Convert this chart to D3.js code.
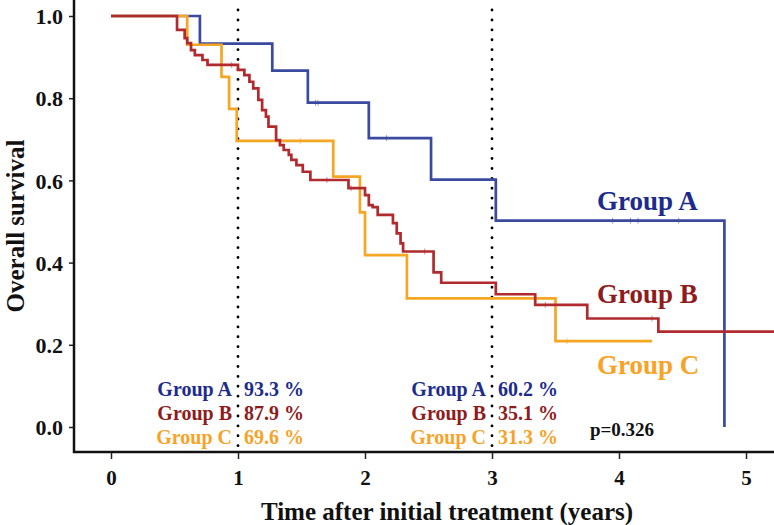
<!DOCTYPE html>
<html>
<head>
<meta charset="utf-8">
<script src="https://cdn.jsdelivr.net/npm/d3@7"></script>
<style>
html,body{margin:0;padding:0;background:#fff;}
svg{display:block;}
text{font-family:"Liberation Serif","Times New Roman",serif;font-weight:bold;}
</style>
</head>
<body>
<svg id="chart" width="774" height="525"></svg>
<script>
// ---- data ----
const groupNames = ["Group A", "Group B", "Group C"];
const timesA = [0, 0.70, 1.27, 1.55, 2.03, 2.52, 3.03, 4.83];
const survA  = [1.0, 0.933, 0.867, 0.789, 0.703, 0.602, 0.502, 0.0];
const endA = 4.83;
const censorA = [1.61, 1.63, 2.17, 3.95, 4.09, 4.15, 4.47];

const timesB = [0, 0.52, 0.58, 0.60, 0.63, 0.66, 0.72, 0.76, 1.00, 1.05, 1.09, 1.12, 1.16, 1.19, 1.22, 1.24, 1.30, 1.33, 1.36, 1.40, 1.42, 1.46, 1.51, 1.57, 1.87, 2.00, 2.03, 2.06, 2.10, 2.22, 2.25, 2.28, 2.30, 2.54, 2.60, 3.03, 3.34, 3.75, 4.31];
const survB  = [1.0, 0.966, 0.946, 0.934, 0.917, 0.905, 0.893, 0.881, 0.869, 0.856, 0.840, 0.824, 0.796, 0.771, 0.755, 0.731, 0.698, 0.686, 0.674, 0.662, 0.650, 0.637, 0.621, 0.601, 0.581, 0.564, 0.540, 0.535, 0.516, 0.496, 0.471, 0.447, 0.427, 0.376, 0.351, 0.323, 0.297, 0.264, 0.232];
const endB = 5.22;
const censorB = [0.95, 1.70, 1.89, 2.47, 3.42, 4.26];

const timesC = [0, 0.60, 0.87, 0.93, 0.99, 1.75, 1.96, 2.00, 2.33, 3.50];
const survC  = [1.0, 0.930, 0.852, 0.774, 0.696, 0.609, 0.522, 0.418, 0.313, 0.209];
const endC = 4.26;
const censorC = [1.49, 3.59];

const xTicks = [0, 1, 2, 3, 4, 5];
const yTicks = [0.0, 0.2, 0.4, 0.6, 0.8, 1.0];
const markTimes = [1, 3];
const rateLabels1 = ["93.3 %", "87.9 %", "69.6 %"];
const rateLabels3 = ["60.2 %", "35.1 %", "31.3 %"];
const pText = "p=0.326";
const xTitle = "Time after initial treatment (years)";
const yTitle = "Overall survival";

// ---- styles ----
const lineColors = ["#3a4a9f", "#b02a2e", "#f6a623"];
const textColors = ["#1d2c8c", "#8e1c1c", "#f8a227"];

const svg = d3.select("#chart");
const x = d3.scaleLinear().domain([0, 5]).range([111, 746]);
const y = d3.scaleLinear().domain([0, 1]).range([427, 16]);
const axisY = 452, axisX = 74;

// axes
const gx = svg.append("g").attr("transform", `translate(0,${axisY})`)
  .call(d3.axisBottom(x).tickValues(xTicks).tickFormat(d3.format("d")).tickSize(7).tickSizeOuter(0));
gx.select(".domain").remove();
gx.selectAll(".tick line").attr("stroke", "#222").attr("stroke-width", 1.5);
gx.selectAll(".tick text").attr("font-size", 21).attr("dy", 0).attr("y", 33).attr("fill", "#111")
  .style("font-family", "'Liberation Serif',serif").style("font-weight", "bold");

const gy = svg.append("g").attr("transform", `translate(${axisX},0)`)
  .call(d3.axisLeft(y).tickValues(yTicks).tickFormat(d3.format(".1f")).tickSize(5).tickSizeOuter(0));
gy.select(".domain").remove();
gy.selectAll(".tick line").attr("stroke", "#222").attr("stroke-width", 1.5);
gy.selectAll(".tick text").attr("font-size", 22).attr("x", -11).attr("dy", "0.35em").attr("fill", "#111")
  .style("font-family", "'Liberation Serif',serif").style("font-weight", "bold");

// axis lines (frame L-shape)
svg.append("path")
  .attr("d", `M${axisX},0 V${axisY} H774`)
  .attr("fill", "none").attr("stroke", "#111").attr("stroke-width", 2.5);

// axis titles
svg.append("text").attr("x", 447).attr("y", 520).attr("text-anchor", "middle")
  .attr("font-size", 25).attr("fill", "#111").text(xTitle);
svg.append("text").attr("transform", "translate(24,226) rotate(-90)").attr("text-anchor", "middle")
  .attr("font-size", 25).attr("fill", "#111").text(yTitle);

// dotted vertical reference lines
svg.selectAll("line.mark").data(markTimes).enter().append("line")
  .attr("class", "mark")
  .attr("x1", d => x(d)).attr("x2", d => x(d))
  .attr("y1", 10).attr("y2", 448)
  .attr("stroke", "#000").attr("stroke-width", 2.8)
  .attr("stroke-dasharray", "0.1 9.8").attr("stroke-linecap", "round");

// survival curves
const line = d3.line().x(d => x(d[0])).y(d => y(d[1])).curve(d3.curveStepAfter);
function build(times, surv, end) {
  const pts = times.map((t, i) => [t, surv[i]]);
  if (end > times[times.length - 1]) pts.push([end, surv[surv.length - 1]]);
  return pts;
}
function survAt(times, surv, t) {
  let v = surv[0];
  for (let i = 0; i < times.length; i++) if (times[i] <= t) v = surv[i];
  return v;
}
const groups = [
  {times: timesA, surv: survA, end: endA, censor: censorA, idx: 0},
  {times: timesC, surv: survC, end: endC, censor: censorC, idx: 2},
  {times: timesB, surv: survB, end: endB, censor: censorB, idx: 1}
];
groups.forEach(g => {
  const col = lineColors[g.idx];
  svg.append("path").datum(build(g.times, g.surv, g.end))
    .attr("d", line).attr("fill", "none").attr("stroke", col)
    .attr("stroke-width", 2.7).attr("stroke-linejoin", "miter");
  svg.selectAll(null).data(g.censor).enter().append("line")
    .attr("x1", d => x(d)).attr("x2", d => x(d))
    .attr("y1", d => y(survAt(g.times, g.surv, d)) - 3)
    .attr("y2", d => y(survAt(g.times, g.surv, d)) + 3)
    .attr("stroke", col).attr("stroke-width", 1).attr("opacity", 0.55);
});

// right-side group labels
const labelY = [210, 303, 374];
groupNames.forEach((n, i) => {
  svg.append("text").attr("x", 597).attr("y", labelY[i]).attr("font-size", 27)
    .attr("fill", textColors[i]).text(n);
});

// bottom rate tables
const rowY = [396, 420, 444];
function table(t, vals) {
  groupNames.forEach((n, i) => {
    svg.append("text").attr("x", x(t) - 6).attr("y", rowY[i]).attr("text-anchor", "end")
      .attr("font-size", 20).attr("fill", textColors[i]).text(n);
    svg.append("text").attr("x", x(t) + 6).attr("y", rowY[i])
      .attr("font-size", 20).attr("fill", textColors[i]).text(vals[i]);
  });
}
table(markTimes[0], rateLabels1);
table(markTimes[1], rateLabels3);

svg.append("text").attr("x", 622).attr("y", 436).attr("text-anchor", "middle")
  .attr("font-size", 19).attr("fill", "#111").text(pText);
</script>
</body>
</html>
